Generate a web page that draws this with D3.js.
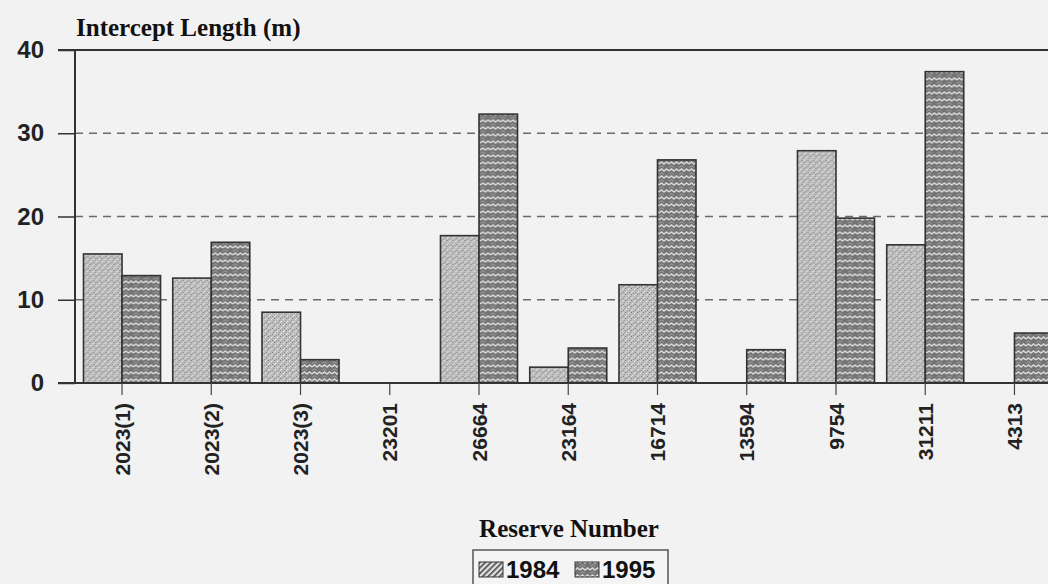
<!DOCTYPE html>
<html>
<head>
<meta charset="utf-8">
<script src="https://cdn.jsdelivr.net/npm/d3@7"></script>
<style>
  html, body { margin: 0; padding: 0; background: #f2f2f2; }
  svg { display: block; }
</style>
</head>
<body>
<svg id="chart" width="1048" height="584"></svg>
<script>
// Intercept length per reserve, surveyed in 1984 and 1995
const categories = ["2023(1)", "2023(2)", "2023(3)", "23201", "26664", "23164", "16714", "13594", "9754", "31211", "4313"];
const seriesNames = ["1984", "1995"];
const values1984 = [15.5, 12.6, 8.5, 0, 17.7, 1.9, 11.8, 0, 27.9, 16.6, 0];
const values1995 = [12.9, 16.9, 2.8, 0, 32.3, 4.2, 26.8, 4.0, 19.8, 37.4, 6.0];
const yTicks = [0, 10, 20, 30, 40];

const svg = d3.select("#chart");
const W = 1048, H = 584;

svg.append("rect").attr("width", W).attr("height", H).attr("fill", "#f2f2f2");

// Fill patterns: stippled light grey and wavy dark grey
const defs = svg.append("defs");
const p84 = defs.append("pattern").attr("id", "pat1984")
  .attr("patternUnits", "userSpaceOnUse").attr("width", 6).attr("height", 6);
p84.append("rect").attr("width", 6).attr("height", 6).attr("fill", "#bdbdbd");
[[0,0,"#7a7a7a"],[3,1,"#e6e6e6"],[1,3,"#e4e4e4"],[4,4,"#848484"],[2,5,"#909090"],[5,2,"#989898"],[0,4,"#dddddd"],[4,0,"#d8d8d8"]]
  .forEach(([x, y, c]) => p84.append("rect").attr("x", x).attr("y", y).attr("width", 1).attr("height", 1).attr("fill", c));

const p95 = defs.append("pattern").attr("id", "pat1995")
  .attr("patternUnits", "userSpaceOnUse").attr("width", 10).attr("height", 7);
p95.append("rect").attr("width", 10).attr("height", 7).attr("fill", "#747474");
p95.append("path").attr("d", "M0,3 L2.5,1 L5,3 L7.5,1 L10,3").attr("fill", "none")
  .attr("stroke", "#d8d8d8").attr("stroke-width", 1.5);
p95.append("path").attr("d", "M0,6.5 L2.5,4.8 L5,6.5").attr("fill", "none")
  .attr("stroke", "#a8a8a8").attr("stroke-width", 0.8);

const legendHatch = defs.append("pattern").attr("id", "patLegend84")
  .attr("patternUnits", "userSpaceOnUse").attr("width", 4).attr("height", 4)
  .attr("patternTransform", "rotate(45)");
legendHatch.append("rect").attr("width", 4).attr("height", 4).attr("fill", "#e0e0e0");
legendHatch.append("rect").attr("width", 1.6).attr("height", 4).attr("fill", "#4a4a4a");

const fills = { "1984": "url(#pat1984)", "1995": "url(#pat1995)" };

// Scales
const y = d3.scaleLinear().domain([0, 40]).range([383, 50]);
const x = d3.scaleBand().domain(categories).range([77.4, 1059.1])
  .paddingInner(0.137).paddingOuter(0.0685);
const xs = d3.scaleBand().domain(seriesNames).range([0, x.bandwidth()]);

const plotLeft = 75, axisLeft = 58;

// Dashed gridlines
svg.append("g").selectAll("line")
  .data(yTicks.filter(t => t > 0 && t < 40))
  .join("line")
  .attr("x1", plotLeft).attr("x2", W)
  .attr("y1", d => y(d)).attr("y2", d => y(d))
  .attr("stroke", "#6a6a6a").attr("stroke-width", 1.5)
  .attr("stroke-dasharray", "8,6");

// Bars
const rows = categories.map((c, i) => ({ cat: c, vals: [
  { s: "1984", v: values1984[i] }, { s: "1995", v: values1995[i] }
]}));

svg.append("g").selectAll("g")
  .data(rows)
  .join("g")
  .attr("transform", d => `translate(${x(d.cat)},0)`)
  .selectAll("rect")
  .data(d => d.vals.filter(e => e.v > 0))
  .join("rect")
  .attr("x", d => xs(d.s))
  .attr("y", d => y(d.v))
  .attr("width", xs.bandwidth())
  .attr("height", d => y(0) - y(d.v))
  .attr("fill", d => fills[d.s])
  .attr("stroke", "#333").attr("stroke-width", 1.6);

// Frame lines: top, left axis, baseline
svg.append("line").attr("x1", axisLeft).attr("x2", W).attr("y1", y(40)).attr("y2", y(40))
  .attr("stroke", "#333").attr("stroke-width", 2);
svg.append("line").attr("x1", plotLeft).attr("x2", plotLeft).attr("y1", y(40)).attr("y2", y(0))
  .attr("stroke", "#333").attr("stroke-width", 2);
svg.append("line").attr("x1", axisLeft).attr("x2", W).attr("y1", y(0)).attr("y2", y(0))
  .attr("stroke", "#333").attr("stroke-width", 2);

// Y axis
const yAxis = svg.append("g").attr("transform", `translate(${plotLeft},0)`)
  .call(d3.axisLeft(y).tickValues(yTicks).tickSize(17).tickPadding(14).tickFormat(d3.format("d")));
yAxis.select(".domain").remove();
yAxis.selectAll(".tick line").attr("stroke", "#333").attr("stroke-width", 1.5);
yAxis.selectAll(".tick text")
  .attr("font-family", "Arial, 'Liberation Sans', sans-serif")
  .attr("font-weight", "bold").attr("font-size", 24).attr("fill", "#222");

// X axis
const xAxis = svg.append("g").attr("transform", `translate(0,${y(0)})`)
  .call(d3.axisBottom(x).tickSize(12).tickPadding(0));
xAxis.select(".domain").remove();
xAxis.selectAll(".tick line").attr("stroke", "#444").attr("stroke-width", 1.2);
xAxis.selectAll(".tick text")
  .attr("font-family", "Arial, 'Liberation Sans', sans-serif")
  .attr("font-weight", "bold").attr("font-size", 21).attr("fill", "#222")
  .attr("text-anchor", "end")
  .attr("transform", "translate(0,20) rotate(-90)")
  .attr("x", 0).attr("y", 0).attr("dy", "0.36em");

// Titles
svg.append("text").attr("x", 76).attr("y", 36)
  .attr("font-family", "'Times New Roman', 'Liberation Serif', serif")
  .attr("font-weight", "bold").attr("font-size", 25).attr("fill", "#111")
  .text("Intercept Length (m)");

svg.append("text").attr("x", 569).attr("y", 537).attr("text-anchor", "middle")
  .attr("font-family", "'Times New Roman', 'Liberation Serif', serif")
  .attr("font-weight", "bold").attr("font-size", 25).attr("fill", "#111")
  .text("Reserve Number");

// Legend
const legend = svg.append("g");
legend.append("rect").attr("x", 473).attr("y", 550).attr("width", 195).attr("height", 44)
  .attr("fill", "#f4f4f4").attr("stroke", "#555").attr("stroke-width", 1.5);
const legendItems = [
  { name: seriesNames[0], fill: "url(#patLegend84)", x: 479 },
  { name: seriesNames[1], fill: "url(#pat1995)", x: 575 }
];
const li = legend.selectAll("g.item").data(legendItems).join("g").attr("class", "item");
li.append("rect").attr("x", d => d.x).attr("y", 562).attr("width", 24).attr("height", 15)
  .attr("fill", d => d.fill).attr("stroke", "#333").attr("stroke-width", 1);
li.append("text").attr("x", d => d.x + 27).attr("y", 578)
  .attr("font-family", "Arial, 'Liberation Sans', sans-serif")
  .attr("font-weight", "bold").attr("font-size", 24).attr("fill", "#111")
  .text(d => d.name);
</script>
</body>
</html>
